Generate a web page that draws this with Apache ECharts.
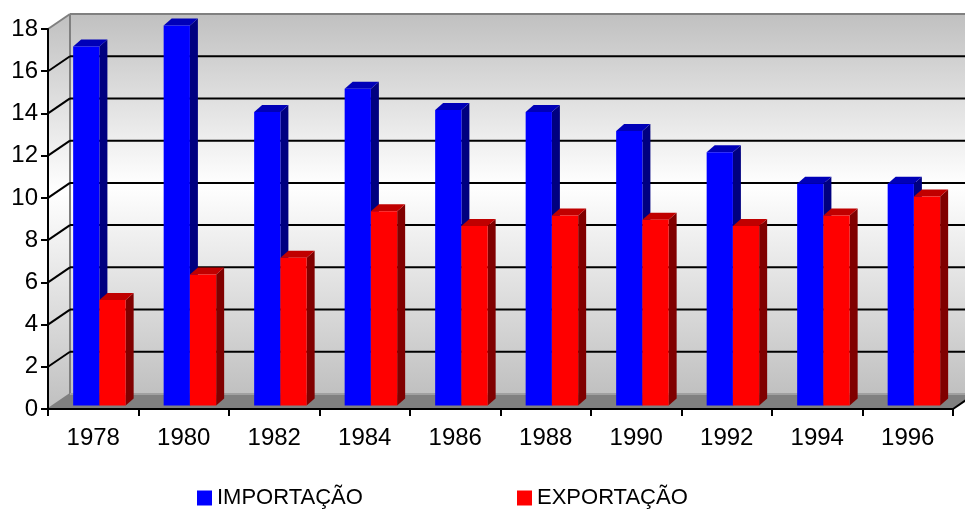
<!DOCTYPE html>
<html>
<head>
<meta charset="utf-8">
<script src="https://cdn.jsdelivr.net/npm/echarts@6/dist/echarts.min.js"></script>
<style>
  html, body { margin: 0; padding: 0; background: #fff; }
  #chart { width: 965px; height: 510px; }
</style>
</head>
<body>
<div id="chart"></div>
<script>
  "use strict";

  var years = ["1978", "1980", "1982", "1984", "1986", "1988", "1990", "1992", "1994", "1996"];
  var importacao = [17, 18, 13.9, 15, 14, 13.9, 13, 12, 10.5, 10.5];
  var exportacao = [5, 6.2, 7, 9.2, 8.5, 9, 8.8, 8.5, 9, 9.9];
  var yTicks = [0, 2, 4, 6, 8, 10, 12, 14, 16, 18];

  var FONT = "'Liberation Sans', Arial, sans-serif";
  // depth of the 3D box (back wall offset) and of each column
  var DX = 22, DY = 15;
  var BDX = 8, BDY = 7;

  function wallGradient() {
    return new echarts.graphic.LinearGradient(0, 0, 0, 1, [
      { offset: 0, color: "#c0c0c0" },
      { offset: 0.45, color: "#ffffff" },
      { offset: 1, color: "#c0c0c0" }
    ]);
  }

  function renderWalls(params, api) {
    var cs = params.coordSys;
    var v = api.value(1);
    var yMax = api.coord([0, yTicks[yTicks.length - 1]])[1];
    var y0 = api.coord([0, 0])[1];
    var xl = cs.x, xr = cs.x + cs.width;
    var children = [];

    if (params.dataIndex === 0) {
      children.push({
        type: "rect",
        shape: { x: xl + DX, y: yMax - DY, width: cs.width, height: y0 - yMax },
        style: { fill: wallGradient() }
      });
      children.push({
        type: "polygon",
        shape: { points: [[xl, yMax], [xl + DX, yMax - DY], [xl + DX, y0 - DY], [xl, y0]] },
        style: { fill: wallGradient() }
      });
      children.push({
        type: "polygon",
        shape: { points: [[xl, y0], [xr, y0], [xr + DX, y0 - DY], [xl + DX, y0 - DY]] },
        style: { fill: "#808080" }
      });
      var grey = { stroke: "#808080", lineWidth: 2 };
      children.push({ type: "line", shape: { x1: xl + DX, y1: yMax - DY, x2: xr + DX, y2: yMax - DY }, style: grey });
      children.push({ type: "line", shape: { x1: xl + DX, y1: yMax - DY, x2: xl + DX, y2: y0 - DY }, style: grey });
      children.push({ type: "line", shape: { x1: xl, y1: yMax, x2: xl + DX, y2: yMax - DY }, style: grey });
      children.push({ type: "line", shape: { x1: xl, y1: y0, x2: xl + DX, y2: y0 - DY }, style: grey });
      children.push({ type: "line", shape: { x1: xl + DX, y1: y0 - DY, x2: xr + DX, y2: y0 - DY }, style: { stroke: "#a0a0a0", lineWidth: 2 } });
      children.push({ type: "line", shape: { x1: xr, y1: y0, x2: xr + DX, y2: y0 - DY }, style: { stroke: "#000", lineWidth: 2 } });
    }

    if (v > 0 && v < yTicks[yTicks.length - 1]) {
      var y = api.coord([0, v])[1];
      var black = { stroke: "#000", lineWidth: 2 };
      children.push({ type: "line", shape: { x1: xl + DX, y1: y - DY, x2: xr + DX, y2: y - DY }, style: black });
      children.push({ type: "line", shape: { x1: xl, y1: y, x2: xl + DX, y2: y - DY }, style: black });
    }
    return { type: "group", children: children };
  }

  function makeBarRenderer(side, front, sideColor, topColor) {
    return function (params, api) {
      var i = api.value(0);
      var base = api.coord([i, 0]);
      var top = api.coord([i, api.value(1)]);
      var band = api.size([1, 0])[0];
      var w = band * 0.29;
      var shiftX = band * 0.068, shiftY = 3.5;
      var x0 = base[0] + shiftX + (side < 0 ? -w : 0);
      var yb = base[1] - shiftY, yt = top[1] - shiftY;
      return {
        type: "group",
        children: [
          {
            type: "polygon",
            shape: { points: [[x0 + w, yt], [x0 + w + BDX, yt - BDY], [x0 + w + BDX, yb - BDY], [x0 + w, yb]] },
            style: { fill: sideColor }
          },
          {
            type: "polygon",
            shape: { points: [[x0, yt], [x0 + w, yt], [x0 + w + BDX, yt - BDY], [x0 + BDX, yt - BDY]] },
            style: { fill: topColor }
          },
          {
            type: "rect",
            shape: { x: x0, y: yt, width: w, height: yb - yt },
            style: { fill: front }
          }
        ]
      };
    };
  }

  var chart = echarts.init(document.getElementById("chart"), null, { renderer: "canvas" });

  var legendText = { fontFamily: FONT, fontSize: 22, color: "#000", lineHeight: 22 };

  chart.setOption({
    animation: false,
    backgroundColor: "#ffffff",
    textStyle: { fontFamily: FONT },
    grid: { left: 48, right: 12, top: 29, bottom: 101, containLabel: false },
    legend: [
      {
        data: ["IMPORTAÇÃO"], left: 197, top: 487, padding: 0, icon: "rect",
        itemWidth: 15, itemHeight: 15, itemGap: 4, textStyle: legendText
      },
      {
        data: ["EXPORTAÇÃO"], left: 517, top: 487, padding: 0, icon: "rect",
        itemWidth: 15, itemHeight: 15, itemGap: 4, textStyle: legendText
      }
    ],
    xAxis: {
      type: "category",
      data: years,
      z: 5,
      axisLine: { show: true, lineStyle: { color: "#000", width: 2 } },
      axisTick: { show: true, length: 7, lineStyle: { color: "#000", width: 2 } },
      axisLabel: { fontFamily: FONT, fontSize: 24, color: "#000", margin: 17 },
      splitLine: { show: false }
    },
    yAxis: {
      type: "value",
      min: 0, max: 18, interval: 2,
      z: 5,
      axisLine: { show: true, lineStyle: { color: "#000", width: 2 } },
      axisTick: { show: true, length: 7, lineStyle: { color: "#000", width: 2 } },
      axisLabel: { fontFamily: FONT, fontSize: 24, color: "#000", margin: 10 },
      splitLine: { show: false }
    },
    series: [
      {
        name: "walls",
        type: "custom",
        z: 1,
        silent: true,
        renderItem: renderWalls,
        data: yTicks.map(function (v) { return [0, v]; })
      },
      {
        name: "IMPORTAÇÃO",
        type: "custom",
        z: 2,
        itemStyle: { color: "#0000ff" },
        renderItem: makeBarRenderer(-1, "#0000ff", "#000080", "#0000b8"),
        data: importacao.map(function (v, i) { return [i, v]; })
      },
      {
        name: "EXPORTAÇÃO",
        type: "custom",
        z: 3,
        itemStyle: { color: "#ff0000" },
        renderItem: makeBarRenderer(1, "#ff0000", "#800000", "#c00000"),
        data: exportacao.map(function (v, i) { return [i, v]; })
      }
    ]
  });
</script>
</body>
</html>
